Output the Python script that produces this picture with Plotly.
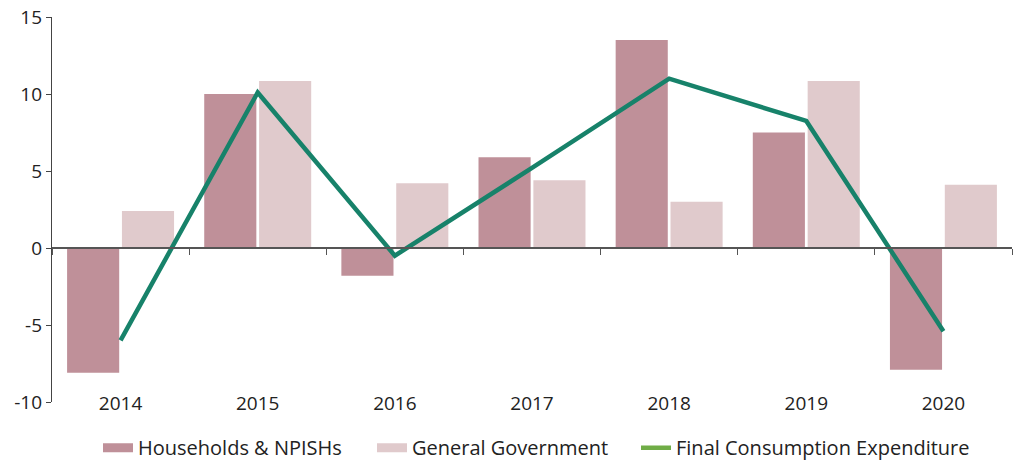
import plotly.graph_objects as go

years = ["2014", "2015", "2016", "2017", "2018", "2019", "2020"]
households = [-8.1, 10.0, -1.8, 5.9, 13.5, 7.5, -7.9]
general_gov = [2.4, 10.85, 4.2, 4.4, 3.0, 10.85, 4.1]
final_cons = [-6.0, 10.1, -0.5, 5.2, 11.0, 8.25, -5.4]
y_ticks = [-10, -5, 0, 5, 10, 15]
y_labels = ["-10", "-5", "0", "5", "10", "15"]

HH_COLOR = "#bf9099"
GG_COLOR = "#e0cacc"
FONT = "'Open Sans', Lato, sans-serif"

fig = go.Figure()
fig.add_trace(go.Bar(x=years, y=households, name="Households & NPISHs", showlegend=False,
                     marker=dict(color=HH_COLOR, line=dict(width=0))))
fig.add_trace(go.Bar(x=years, y=general_gov, name="General Government", showlegend=False,
                     marker=dict(color=GG_COLOR, line=dict(width=0))))
fig.add_trace(go.Scatter(x=years, y=final_cons, mode="lines", showlegend=False,
                         line=dict(color="#17826a", width=4.5)))
# legend entries
fig.add_trace(go.Scatter(x=[None], y=[None], mode="lines", name="Households & NPISHs",
                         line=dict(color=HH_COLOR, width=9), legend="legend"))
fig.add_trace(go.Scatter(x=[None], y=[None], mode="lines", name="General Government",
                         line=dict(color=GG_COLOR, width=9), legend="legend2"))
fig.add_trace(go.Scatter(x=[None], y=[None], mode="lines", name="Final Consumption Expenditure",
                         line=dict(color="#70ad47", width=4.5), legend="legend3"))
# zero-line axis with boundary ticks
fig.add_trace(go.Scatter(x=years, y=[None]*len(years), xaxis="x2", showlegend=False,
                         hoverinfo="skip"))

def leg(xpos):
    return dict(orientation="h", x=xpos, xanchor="left", y=-0.068, yanchor="top",
                font=dict(size=20, color="#222"), itemwidth=30,
                bgcolor="rgba(0,0,0,0)")

fig.update_layout(
    width=1015, height=461,
    margin=dict(l=52, r=3, t=17, b=59, autoexpand=False),
    paper_bgcolor="white", plot_bgcolor="white",
    barmode="group", bargap=0.2, bargroupgap=0.05,
    font=dict(family=FONT, size=20, color="#222"),
    showlegend=True,
    legend=leg((98 - 52) / 960),
    legend2=leg((372 - 52) / 960),
    legend3=leg((636 - 52) / 960),
    xaxis=dict(type="category", showline=False, ticks="", showgrid=False,
               tickfont=dict(size=19), ticklabelstandoff=-12, automargin=False),
    xaxis2=dict(type="category", overlaying="x", anchor="free", position=0.4,
                side="bottom", showline=True, linecolor="#555", linewidth=1.5,
                ticks="outside", tickson="boundaries", ticklen=6, tickcolor="#555",
                showticklabels=False, showgrid=False, matches="x", automargin=False),
    yaxis=dict(range=[-10, 15], tickvals=y_ticks, ticktext=y_labels,
               showgrid=False, zeroline=False,
               showline=True, linecolor="#444", linewidth=1.2,
               ticks="outside", ticklen=5, tickcolor="#444",
               tickfont=dict(size=19), automargin=False),
)
fig.write_html("out.html", config={"displayModeBar": False},
               post_script="document.body.style.margin='0';")
